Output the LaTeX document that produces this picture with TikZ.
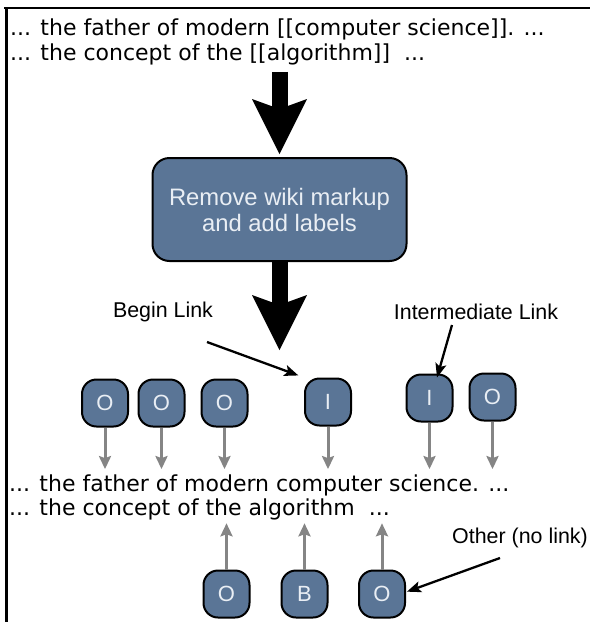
\documentclass[tikz,border=0pt]{standalone}
\usepackage{fontspec}
\newfontfamily\bodyfont{DejaVu Sans}
\newfontfamily\helv{Liberation Sans}
\usetikzlibrary{arrows.meta,calc}
\definecolor{tokfill}{HTML}{5A7596}
\definecolor{toktext}{HTML}{E9EEF4}
\definecolor{grayarrow}{HTML}{858585}
\begin{document}
\begin{tikzpicture}[x=1pt,y=-1pt,
  body/.style={anchor=base west,inner sep=0pt,font=\bodyfont\fontsize{22}{24}\selectfont,text=black},
  procbox/.style={draw=black,line width=2pt,fill=tokfill,rounded corners=17pt,minimum width=254pt,minimum height=103pt,align=center,text=toktext,font=\helv\fontsize{23.8}{26}\selectfont,inner sep=0pt},
  tok/.style={draw=black,line width=2pt,fill=tokfill,rounded corners=14.5pt,minimum width=46pt,minimum height=47pt,inner sep=0pt,text=toktext,font=\helv\fontsize{22}{24}\selectfont},
  lab/.style={inner sep=0pt,font=\helv\fontsize{21.4}{24}\selectfont,text=black},
  ann/.style={draw=black,line width=2.3pt,-{Stealth[length=14pt,width=11pt,inset=3pt]}},
  garrow/.style={draw=grayarrow,line width=3pt,-{Stealth[length=13pt,width=12pt,inset=2pt]}},
  bigarrow/.style={draw=black,line width=16pt,-{Stealth[length=55pt,width=55pt,inset=10pt,line width=0pt]}},
]
\useasboundingbox (0,0) rectangle (590,622);
% frame
\draw[line width=2pt] (4,8.3) -- (590,8.3);
\draw[line width=2.7pt] (6.3,7.3) -- (6.3,622);

% top text
\node[body] (top1) at (10,35) {... the father of modern [[computer science]]. ...};
\node[body] (top2) at (10,60) {... the concept of the [[algorithm]]\ \ ...};

% process box
\node[procbox] (box) at (279.5,209.5) {Remove wiki markup\\and add labels};

% big arrows
\draw[bigarrow,shorten <=7pt,shorten >=3pt] (box.north |- top2.south) -- (box.north);
\coordinate (bigtip) at (279.5,350);
\draw[bigarrow] (box.south) -- (bigtip);

% labels
\node[lab] (bl) at (163,312) {Begin Link};
\node[lab] (il) at (476,312) {Intermediate Link};
\node[lab] (ol) at (520,538) {Other (no link)};

% upper tokens
\node[tok] (t1) at (105,403) {O};
\node[tok] (t2) at (161.5,403) {O};
\node[tok] (t3) at (224.5,403) {O};
\node[tok] (t4) at (328,402) {I};
\node[tok] (t5) at (429.5,398) {I};
\node[tok] (t6) at (492.5,397) {O};

% lower text
\node[body] (low1) at (9,491) {... the father of modern computer science. ...};
\node[body] (low2) at (9,515) {... the concept of the algorithm\ \ ...};

% bottom tokens
\node[tok] (b1) at (226.5,594) {O};
\node[tok] (b2) at (304.5,594) {B};
\node[tok] (b3) at (382,594) {O};

% gray arrows down
\foreach \t in {t1,t2,t3,t4,t5,t6}
  \draw[garrow,shorten >=5pt] (\t.south) -- (\t.south |- low1.north);
% gray arrows up
\foreach \t in {b1,b2,b3}
  \draw[garrow,shorten >=3.5pt] (\t.north) -- (\t.north |- low2.south);

% annotation arrows
\coordinate (bls) at (207,342);
\draw[ann,shorten >=6pt] (bls) -- (t4.north west);
\coordinate (ils) at (452,325);
\draw[ann] (ils) -- ($(t5.north)+(7.5,4)$);
\coordinate (ols) at (500,558);
\draw[ann,shorten >=1pt] (ols) -- ($(b3.east)+(0,-2)$);
\end{tikzpicture}
\end{document}
